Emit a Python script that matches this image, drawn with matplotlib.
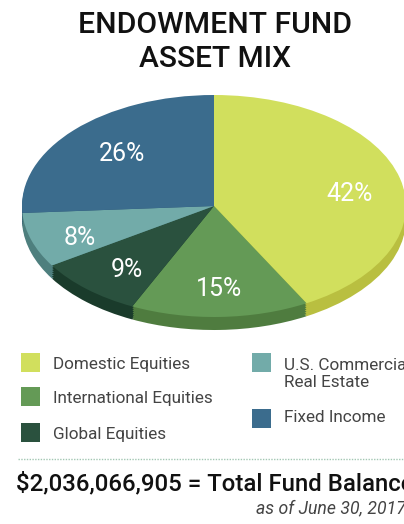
import matplotlib
matplotlib.use("Agg")
from matplotlib import pyplot as plt
from matplotlib.patches import Rectangle

plt.rcParams['font.family'] = ['Roboto', 'DejaVu Sans']

categories = ["Domestic Equities", "International Equities", "Global Equities",
              "U.S. Commercial\nReal Estate", "Fixed Income"]
values = [42, 15, 9, 8, 26]
value_labels = ["42%", "15%", "9%", "8%", "26%"]
balance_text = "$2,036,066,905 = Total Fund Balance"
date_text = "as of June 30, 2017"

top_colors = ["#d1df5d", "#649a56", "#2a513e", "#72aba9", "#3b6c8d"]
side_colors = ["#b9bf40", "#4f7c3f", "#1a3b2b", "#4e7f7e", "#2d5570"]

fig = plt.figure(figsize=(4.04, 5.24), dpi=100)

# pie lives in its own axes, stretched to an ellipse
depth = 13 / 111
pie_ax = fig.add_axes([22 / 404, (524 - 330) / 524, 384 / 404, 235 / 524])
steps = 6
for i in range(steps, 0, -1):
    pie_ax.pie(values, colors=side_colors, startangle=90, counterclock=False,
               center=(0, -depth * i / steps))
pie_ax.pie(values, colors=top_colors, startangle=90, counterclock=False)
pie_ax.set_aspect('auto')
pie_ax.set_xlim(-1, 1)
pie_ax.set_ylim(-1 - depth, 1)

# everything else in pixel coords
ax = fig.add_axes([0, 0, 1, 1], zorder=5)
ax.set_xlim(0, 404)
ax.set_ylim(524, 0)
ax.axis('off')
ax.patch.set_alpha(0)

ax.text(215, 33, "ENDOWMENT FUND", ha='center', va='baseline', fontsize=21.7,
        fontweight='medium', color='#111111')
ax.text(215, 67, "ASSET MIX", ha='center', va='baseline', fontsize=21.5,
        fontweight='medium', color='#111111')

label_x = [350, 219, 127, 80, 122]
label_y = [194, 289, 270, 238, 154]
for t, x, y in zip(value_labels, label_x, label_y):
    ax.text(x, y, t, ha='center', va='center', color='white', fontsize=18)

swatch_x = [21, 21, 21, 252, 252]
swatch_y = [353, 387, 423, 353, 409]
text_y = [365, 399, 434, 374, 418]
for name, col, x, y, ty in zip(categories, top_colors, swatch_x, swatch_y, text_y):
    ax.add_patch(Rectangle((x, y), 19, 19, color=col, lw=0))
    ax.text(x + 32, ty, name, ha='left', va='center', fontsize=12.3, color='#444444',
            linespacing=1.15)

ax.plot([18, 404], [459, 459], color='#a3c7b3', lw=1, ls=(0, (1, 1)))

ax.text(16, 484, balance_text, ha='left', va='center', fontsize=17.3,
        fontweight='medium', color='#111111')
ax.text(256, 508, date_text, ha='left', va='center', fontsize=12.7,
        style='italic', color='#444444')

fig.savefig("out.png", dpi=100)
